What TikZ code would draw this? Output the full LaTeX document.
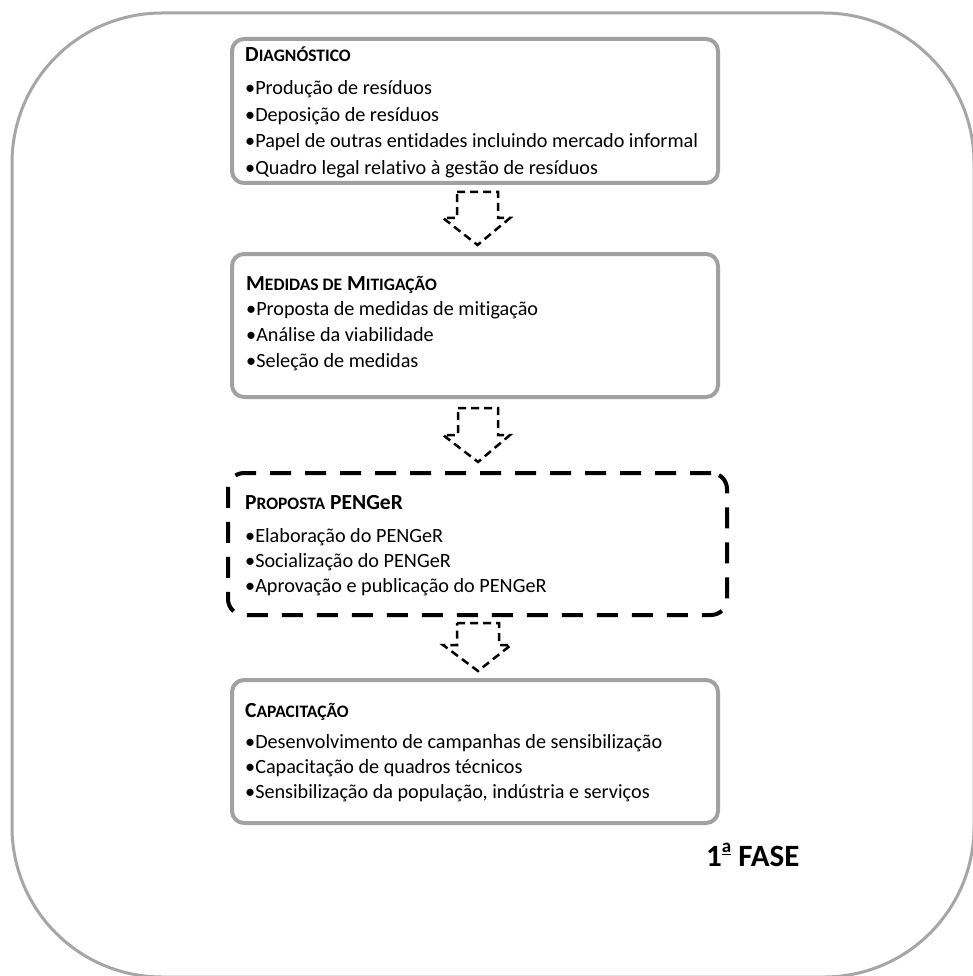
\documentclass[tikz,border=0pt]{standalone}
\usepackage{fontspec}
\setmainfont{Carlito}[Ligatures=NoCommon]
% bold heading with small-capital look: first letter full size, rest reduced
\newcommand{\capsrest}[1]{{\fontsize{17.5}{20}\selectfont #1}}
% raised, underlined ordinal a
\newcommand{\ordA}{\raisebox{0.42em}{\fontsize{19}{20}\selectfont\underline{a}}}
\begin{document}
\begin{tikzpicture}[x=1pt,y=-1pt,
  frame/.style={draw=black!35, line width=3pt, rounded corners=150pt},
  panel/.style={draw=black!37, line width=4pt, rounded corners=12pt, minimum width=486pt, inner sep=0pt},
  dashpanel/.style={draw=black, line width=4pt, rounded corners=16pt, dash pattern=on 21pt off 14pt, minimum width=499pt, inner sep=0pt},
  heading/.style={anchor=base west, inner sep=0pt, font=\fontsize{21.5}{24}\selectfont\bfseries},
  item/.style={anchor=base west, inner sep=0pt, font=\fontsize{20.2}{24}\selectfont},
  flowarrow/.style={draw=black, line width=2.5pt, dash pattern=on 8pt off 5pt, line join=miter},
  phase/.style={anchor=base west, inner sep=0pt, font=\fontsize{31}{36}\selectfont\bfseries}
]
\useasboundingbox (0,0) rectangle (972,976);

% outer frame
\draw[frame] (12,13) rectangle (974,977);

% stage boxes
\node[panel, minimum height=144pt] (diag) at (475,111) {};
\node[panel, minimum height=143pt] (mitig) at (475,325.5) {};
\node[dashpanel, minimum height=142pt] (prop) at (477.5,544) {};
\node[panel, minimum height=143pt] (capac) at (475,751.5) {};

% block arrows between the stages
\draw[flowarrow] (457,192) -- (498,192) -- (498,218) -- (510,218) -- (477.5,245)
  -- (443,218) -- (457,218) -- cycle;
\draw[flowarrow] (458,408) -- (498,408) -- (498,435) -- (510,435) -- (478,462)
  -- (443,435) -- (458,435) -- cycle;
\draw[flowarrow] (457,623) -- (499,623) -- (499,645) -- (511,645) -- (478,671)
  -- (443,645) -- (457,645) -- cycle;

% Diagnóstico
\node[heading] (d0) at (245,62) {D\capsrest{IAGNÓSTICO}};
\node[item] (d1) at (245,95) {•Produção de resíduos};
\node[item] (d2) at (245,121.5) {•Deposição de resíduos};
\node[item] (d3) at (245,148) {•Papel de outras entidades incluindo mercado informal};
\node[item] (d4) at (245,175) {•Quadro legal relativo à gestão de resíduos};

% Medidas de Mitigação
\node[heading] (m0) at (246,290) {M\capsrest{EDIDAS DE} M\capsrest{ITIGAÇÃO}};
\node[item] (m1) at (246,315.5) {•Proposta de medidas de mitigação};
\node[item] (m2) at (246,341) {•Análise da viabilidade};
\node[item] (m3) at (246,367) {•Seleção de medidas};

% Proposta PENGeR
\node[heading] (p0) at (245,509) {P\capsrest{ROPOSTA} PENGeR};
\node[item] (p1) at (245,542) {•Elaboração do PENGeR};
\node[item] (p2) at (245,567) {•Socialização do PENGeR};
\node[item] (p3) at (245,592) {•Aprovação e publicação do PENGeR};

% Capacitação
\node[heading] (c0) at (245,717) {C\capsrest{APACITAÇÃO}};
\node[item] (c1) at (245,748) {•Desenvolvimento de campanhas de sensibilização};
\node[item] (c2) at (245,773) {•Capacitação de quadros técnicos};
\node[item] (c3) at (245,798) {•Sensibilização da população, indústria e serviços};

% phase label
\node[phase] (fase) at (706,866) {1\ordA\ FASE};
\end{tikzpicture}
\end{document}
